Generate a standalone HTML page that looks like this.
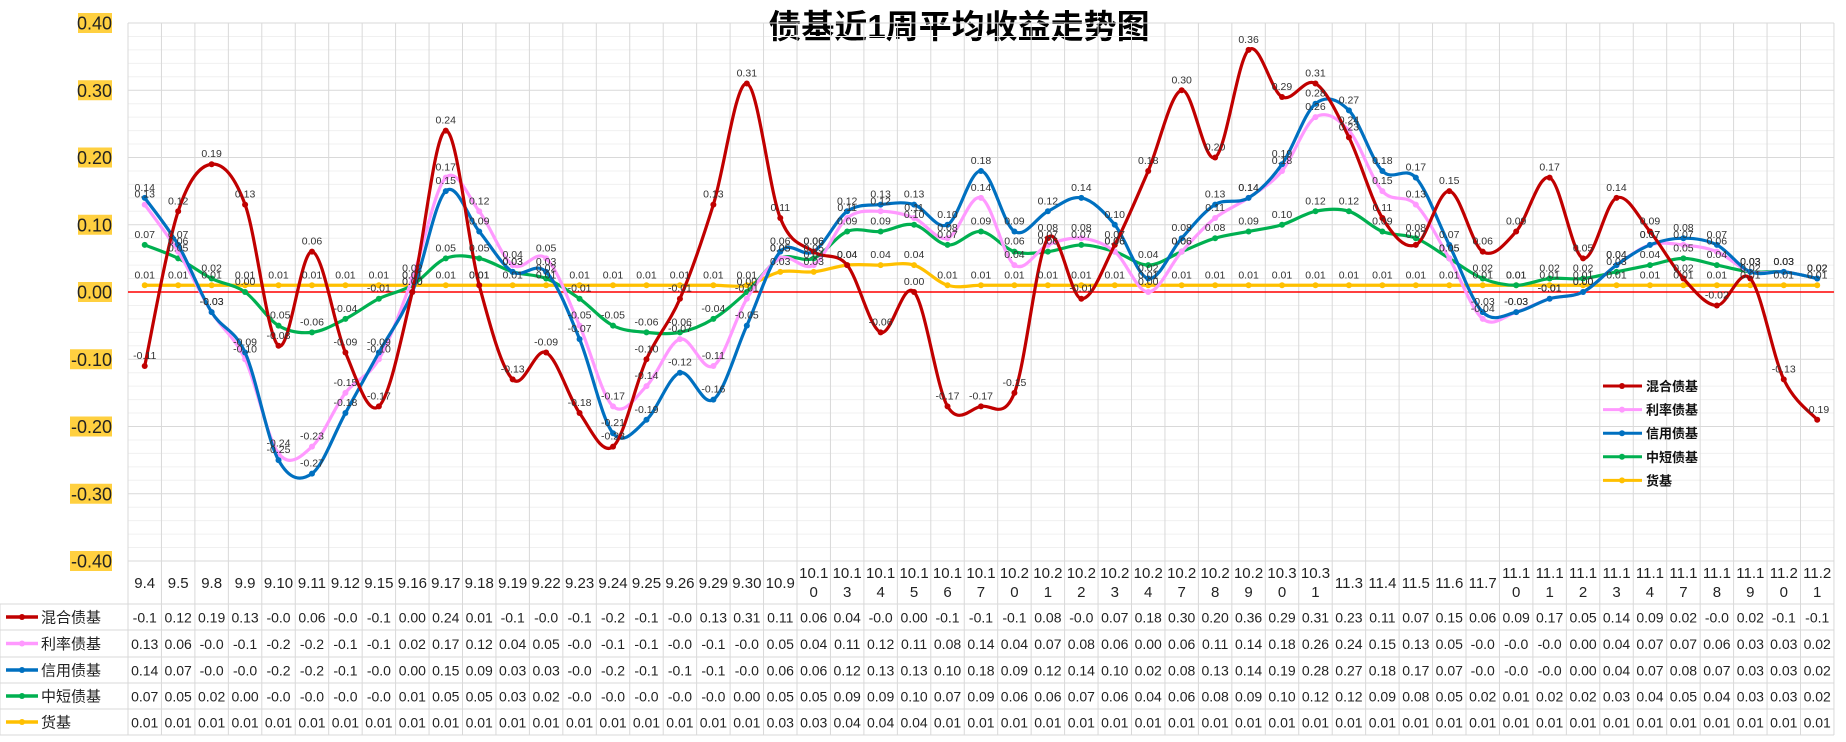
<!DOCTYPE html>
<html><head><meta charset="utf-8"><style>
body{margin:0;background:#fff;}
svg{display:block;font-family:"Liberation Sans","Noto Sans CJK SC",sans-serif;}
</style></head><body>
<svg id="chart" width="1846" height="742" viewBox="0 0 1846 742" xmlns="http://www.w3.org/2000/svg">
<text x="959" y="38" text-anchor="middle" font-size="33" font-weight="bold" fill="#000">债基近1周平均收益走势图</text>
<g id="grid"></g><g id="yaxis"></g><g id="table"></g><g id="series"></g><g id="labels"></g><g id="legend"></g>
</svg>
<script>
const categories=["9.4","9.5","9.8","9.9","9.10","9.11","9.12","9.15","9.16","9.17","9.18","9.19","9.22","9.23","9.24","9.25","9.26","9.29","9.30","10.9","10.10","10.13","10.14","10.15","10.16","10.17","10.20","10.21","10.22","10.23","10.24","10.27","10.28","10.29","10.30","10.31","11.3","11.4","11.5","11.6","11.7","11.10","11.11","11.12","11.13","11.14","11.17","11.18","11.19","11.20","11.21"];
const hybridValues=[-0.11,0.12,0.19,0.13,-0.08,0.06,-0.09,-0.17,0.00,0.24,0.01,-0.13,-0.09,-0.18,-0.23,-0.10,-0.01,0.13,0.31,0.11,0.06,0.04,-0.06,0.00,-0.17,-0.17,-0.15,0.08,-0.01,0.07,0.18,0.30,0.20,0.36,0.29,0.31,0.23,0.11,0.07,0.15,0.06,0.09,0.17,0.05,0.14,0.09,0.02,-0.02,0.02,-0.13,-0.19];
const rateValues=[0.13,0.06,-0.03,-0.10,-0.24,-0.23,-0.15,-0.10,0.02,0.17,0.12,0.04,0.05,-0.05,-0.17,-0.14,-0.07,-0.11,-0.01,0.05,0.04,0.11,0.12,0.11,0.08,0.14,0.04,0.07,0.08,0.06,0.00,0.06,0.11,0.14,0.18,0.26,0.24,0.15,0.13,0.05,-0.04,-0.03,-0.01,0.00,0.04,0.07,0.07,0.06,0.03,0.03,0.02];
const creditValues=[0.14,0.07,-0.03,-0.09,-0.25,-0.27,-0.18,-0.09,0.00,0.15,0.09,0.03,0.03,-0.07,-0.21,-0.19,-0.12,-0.16,-0.05,0.06,0.06,0.12,0.13,0.13,0.10,0.18,0.09,0.12,0.14,0.10,0.02,0.08,0.13,0.14,0.19,0.28,0.27,0.18,0.17,0.07,-0.03,-0.03,-0.01,0.00,0.04,0.07,0.08,0.07,0.03,0.03,0.02];
const shortValues=[0.07,0.05,0.02,0.00,-0.05,-0.06,-0.04,-0.01,0.01,0.05,0.05,0.03,0.02,-0.01,-0.05,-0.06,-0.06,-0.04,0.00,0.05,0.05,0.09,0.09,0.10,0.07,0.09,0.06,0.06,0.07,0.06,0.04,0.06,0.08,0.09,0.10,0.12,0.12,0.09,0.08,0.05,0.02,0.01,0.02,0.02,0.03,0.04,0.05,0.04,0.03,0.03,0.02];
const moneyValues=[0.01,0.01,0.01,0.01,0.01,0.01,0.01,0.01,0.01,0.01,0.01,0.01,0.01,0.01,0.01,0.01,0.01,0.01,0.01,0.03,0.03,0.04,0.04,0.04,0.01,0.01,0.01,0.01,0.01,0.01,0.01,0.01,0.01,0.01,0.01,0.01,0.01,0.01,0.01,0.01,0.01,0.01,0.01,0.01,0.01,0.01,0.01,0.01,0.01,0.01,0.01];
const seriesNames=["混合债基","利率债基","信用债基","中短债基","货基"];
const yTickLabels=["0.40","0.30","0.20","0.10","0.00","-0.10","-0.20","-0.30","-0.40"];

const NS="http://www.w3.org/2000/svg";
const seriesData=[hybridValues,rateValues,creditValues,shortValues,moneyValues];
const colors=["#c00000","#ff99ff","#0070c0","#00b050","#ffc000"];
const slugs=["hybrid","rate","credit","short","money"];
const L=128,colW=33.45,yTop=23,yBot=561,vMax=0.4,vMin=-0.4;
function xS(i){return L+colW*(i+0.5);}
function yS(v){return yTop+(vMax-v)/(vMax-vMin)*(yBot-yTop);}
function mk(tag,attrs,parent){const e=document.createElementNS(NS,tag);for(const k in attrs)e.setAttribute(k,attrs[k]);parent.appendChild(e);return e;}
const grid=document.getElementById('grid'),yax=document.getElementById('yaxis'),tbl=document.getElementById('table'),ser=document.getElementById('series'),lab=document.getElementById('labels'),leg=document.getElementById('legend');
const R=L+colW*categories.length;
// minor/major gridlines
for(let k=0;k<=40;k++){const v=vMax-k*0.02;const y=yS(v);const major=k%5===0;
 const ln=mk('line',{x1:L,x2:R,y1:y,y2:y,stroke:major?'#d9d9d9':'#f0f0f0','stroke-width':1},grid);
 
 }
// vertical lines
for(let i=0;i<=categories.length;i++){const x=L+colW*i;
 const ln=mk('line',{x1:x,x2:x,y1:yTop,y2:735,stroke:'#d9d9d9','stroke-width':1},grid);
 
 }
// zero line
const z=mk('line',{x1:L,x2:R,y1:yS(0),y2:yS(0),stroke:'#ff0000','stroke-width':1.5},grid);


// y ticks
yTickLabels.forEach((t,k)=>{const v=parseFloat(t);const y=yS(v);
 const w=t.length>4?42:34;
 const r=mk('rect',{x:112-w,y:y-10,width:w,height:20,fill:'#ffd040'},yax);
 
 
 const tx=mk('text',{x:112,y:y+6.5,'text-anchor':'end','font-size':18,fill:'#222'},yax);tx.textContent=t;
 
 });
// table
const rowTop=[561,604,630,657,683,709,735];
rowTop.forEach((y,k)=>{const ln=mk('line',{x1:k===0?L:0,x2:R,y1:y,y2:y,stroke:'#d9d9d9','stroke-width':1},tbl);
 
 });
const lv=mk('line',{x1:0,x2:0,y1:604,y2:735,stroke:'#d9d9d9'},tbl);


categories.forEach((c,i)=>{const x=xS(i);
 const t=mk('text',{x:x,'text-anchor':'middle','font-size':15,fill:'#222'},tbl);
 
 
 if(c.length>4){const a=mk('tspan',{x:x,y:578},t);a.textContent=c.slice(0,4);const b=mk('tspan',{x:x,y:597},t);b.textContent=c.slice(4);}
 else{t.setAttribute('y',588);t.textContent=c;}});
function fmt(v){let s=v.toFixed(2);if(s==='-0.00')s='0.00';if(v<0)s=s.slice(0,4);return s;}
seriesData.forEach((arr,s)=>{const cy=(rowTop[s+1]+rowTop[s+2])/2;
 const key=mk('line',{x1:6,x2:38,y1:cy,y2:cy,stroke:colors[s],'stroke-width':3.5},tbl);
 
 
 const kd=mk('circle',{cx:22,cy:cy,r:3,fill:colors[s]},tbl);
 
 
 const nm=mk('text',{x:41,y:cy+5.5,'font-size':15,fill:'#222'},tbl);nm.textContent=seriesNames[s];
 
 
 arr.forEach((v,i)=>{const t=mk('text',{x:xS(i),y:cy+5.5,'text-anchor':'middle','font-size':14,fill:'#222'},tbl);t.textContent=fmt(v);
  
  });});
// series
function smoothPath(pts){let d='M'+pts[0][0]+','+pts[0][1];
 for(let i=0;i<pts.length-1;i++){const p0=pts[i-1]||pts[i],p1=pts[i],p2=pts[i+1],p3=pts[i+2]||p2;
  const c1=[p1[0]+(p2[0]-p0[0])/6,p1[1]+(p2[1]-p0[1])/6],c2=[p2[0]-(p3[0]-p1[0])/6,p2[1]-(p3[1]-p1[1])/6];
  d+=' C'+c1[0]+','+c1[1]+' '+c2[0]+','+c2[1]+' '+p2[0]+','+p2[1];}
 return d;}
[4,3,1,2,0].forEach(s=>{const arr=seriesData[s];const pts=arr.map((v,i)=>[xS(i),yS(v)]);
 const g=mk('g',{},ser);
 
 
 const p=mk('path',{d:smoothPath(pts),fill:'none',stroke:colors[s],'stroke-width':3.2},g);
 
 
 pts.forEach(pt=>{const c=mk('circle',{cx:pt[0],cy:pt[1],r:3,fill:colors[s]},g);
  
  });
 arr.forEach((v,i)=>{let s2=v.toFixed(2);if(s2==='-0.00')s2='0.00';
  const t=mk('text',{x:xS(i),y:yS(v)-7,'text-anchor':'middle','font-size':10.5,fill:'#333'},lab);t.textContent=s2;
  
  });});
// legend
seriesNames.forEach((n,s)=>{const y=386+s*23.6;
 const ln=mk('line',{x1:1603,x2:1642,y1:y,y2:y,stroke:colors[s],'stroke-width':3},leg);
 
 
 const c=mk('circle',{cx:1622,cy:y,r:3,fill:colors[s]},leg);
 
 
 const t=mk('text',{x:1646,y:y+5,'font-size':13,'font-weight':'bold',fill:'#111'},leg);t.textContent=n;
 
 });
</script>
</body></html>
